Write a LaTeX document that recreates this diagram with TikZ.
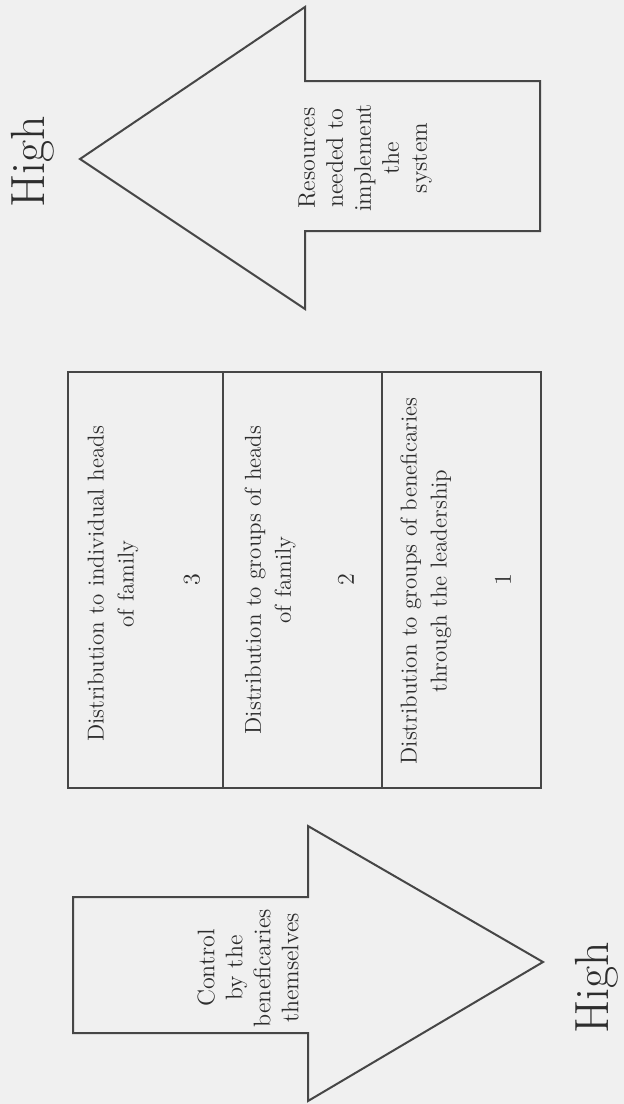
\documentclass[tikz,border=0pt]{standalone}
\definecolor{paper}{RGB}{240,240,240}
\definecolor{ink}{RGB}{70,70,70}
\definecolor{txt}{RGB}{45,45,45}
\begin{document}
\begin{tikzpicture}[x=0.5pt,y=-0.5pt,
  bigarrow/.style={draw=ink, line width=1pt, line join=miter},
  panel/.style={draw=ink, line width=1pt, minimum height=208pt, inner sep=0pt},
  lbl/.style={text=txt, rotate=90, align=center, inner sep=0pt, font=\fontsize{11.5}{15}\selectfont},
  num/.style={text=txt, rotate=90, inner sep=0pt, font=\fontsize{12}{14}\selectfont},
  atext/.style={text=txt, rotate=90, align=center, inner sep=0pt, font=\fontsize{12}{14}\selectfont},
  high/.style={text=txt, rotate=90, inner sep=0pt, font=\fontsize{24}{28}\selectfont}]
\fill[paper] (0,0) rectangle (624,1104);
\useasboundingbox (0,0) rectangle (624,1104);
% top arrow (pointing left)
\draw[bigarrow] (80,159) -- (305,7) -- (305,81) -- (540,81) -- (540,231) -- (305,231) -- (305,309) -- cycle;
\node[atext] (res) at (365,158) {Resources\\needed to\\implement\\the\\system};
\node[high] (hightop) at (33,162) {High};
% table
\node[panel, minimum width=77.5pt] (p3) at (145.5,580) {};
\node[panel, minimum width=79.5pt] (p2) at (302.5,580) {};
\node[panel, minimum width=79.5pt] (p1) at (461.5,580) {};
\node[lbl] (t3) at (113,584) {Distribution to individual heads\\of family};
\node[num] (n3) at (192,580) {3};
\node[lbl] (t2) at (270,580) {Distribution to groups of heads\\of family};
\node[num] (n2) at (346,580) {2};
\node[lbl] (t1) at (426,581) {Distribution to groups of beneficaries\\through the leadership};
\node[num] (n1) at (503,580) {1};
% bottom arrow (pointing right)
\draw[bigarrow] (543,962) -- (308,826) -- (308,897) -- (73,897) -- (73,1033) -- (308,1033) -- (308,1101) -- cycle;
\node[atext] (ctl) at (248,968) {Control\\by the\\beneficaries\\themselves};
\node[high] (highbot) at (597,988) {High};
\end{tikzpicture}
\end{document}
